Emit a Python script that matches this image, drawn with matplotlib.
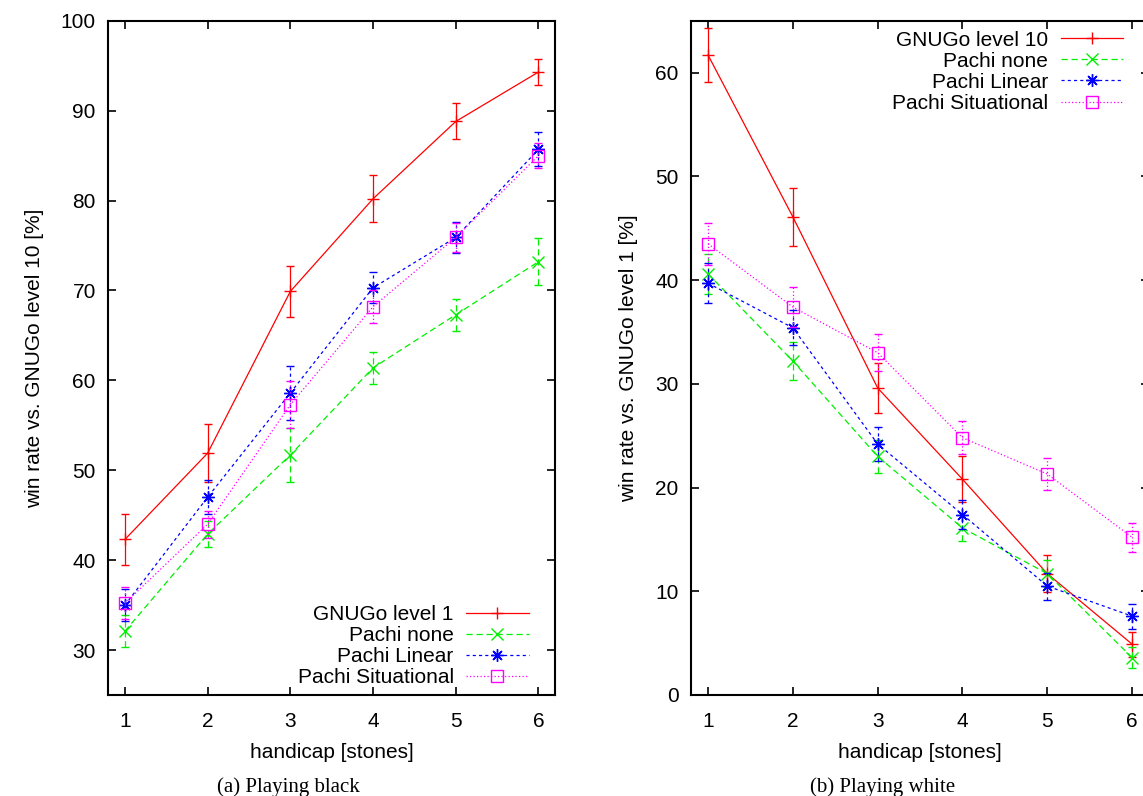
import matplotlib.pyplot as plt
from matplotlib.lines import Line2D

# handicap in stones
handicap = [1, 2, 3, 4, 5, 6]

# (a) playing black: win rate vs. GNUGo level 10 [%]
black_labels = ['GNUGo level 1', 'Pachi none', 'Pachi Linear', 'Pachi Situational']
black_gnugo = [42.3, 51.9, 69.9, 80.2, 88.8, 94.3]
black_gnugo_err = [2.8, 3.2, 2.8, 2.6, 2.0, 1.4]
black_none = [32.1, 42.9, 51.7, 61.4, 67.3, 73.2]
black_none_err = [1.8, 1.4, 3.0, 1.8, 1.8, 2.6]
black_linear = [35.0, 47.0, 58.6, 70.3, 75.9, 85.7]
black_linear_err = [1.8, 1.9, 3.0, 1.7, 1.7, 1.9]
black_sit = [35.2, 44.0, 57.3, 68.2, 75.9, 85.0]
black_sit_err = [1.8, 1.5, 2.6, 1.8, 1.6, 1.4]

# (b) playing white: win rate vs. GNUGo level 1 [%]
white_labels = ['GNUGo level 10', 'Pachi none', 'Pachi Linear', 'Pachi Situational']
white_gnugo = [61.7, 46.1, 29.6, 20.8, 11.7, 4.9]
white_gnugo_err = [2.6, 2.8, 2.4, 2.2, 1.8, 1.2]
white_none = [40.6, 32.2, 23.0, 16.1, 11.7, 3.6]
white_none_err = [1.9, 1.8, 1.6, 1.3, 1.3, 1.0]
white_linear = [39.7, 35.4, 24.2, 17.4, 10.5, 7.6]
white_linear_err = [1.9, 1.7, 1.6, 1.4, 1.3, 1.2]
white_sit = [43.5, 37.4, 33.0, 24.8, 21.3, 15.2]
white_sit_err = [2.0, 1.9, 1.8, 1.6, 1.5, 1.4]

colors = ['#ff0000', '#00f000', '#0000ff', '#ff00ff']
markers = ['+', 'x', (8, 2, 0), 's']
styles = ['-', (0, (5, 3)), (0, (2.5, 2.5)), (0, (1, 1.8))]

plt.rcParams['font.family'] = ['Liberation Sans', 'DejaVu Sans']
plt.rcParams['font.size'] = 15


def draw_panel(ax, series, errors, labels, ylim, yticks, ylabel, loc, anchor):
    handles = []
    for i in range(4):
        eb = ax.errorbar(handicap, series[i], yerr=errors[i], color=colors[i],
                         ls=styles[i], lw=0.9, marker=markers[i], ms=9,
                         mfc='none', mew=1.0, capsize=2.8, elinewidth=0.9,
                         capthick=0.9, zorder=3 + i)
        for bar in eb[2]:
            bar.set_linestyle(styles[i])
        handles.append(Line2D([], [], color=colors[i], ls=styles[i], lw=0.9,
                              marker=markers[i], ms=9, mfc='none', mew=1.0))
    ax.set_xlim(0.8, 6.2)
    ax.set_ylim(*ylim)
    ax.set_xticks(handicap)
    ax.set_yticks(yticks)
    ax.tick_params(direction='in', length=6, width=1.2, top=True, right=True,
                   labelsize=15)
    ax.tick_params(axis='x', pad=12)
    ax.tick_params(axis='y', pad=9)
    for s in ax.spines.values():
        s.set_linewidth(1.5)
    ax.set_xlabel('handicap [stones]', fontsize=15, labelpad=9)
    ax.set_ylabel(ylabel, fontsize=15, labelpad=12)
    leg = ax.legend(handles, labels, loc=loc, bbox_to_anchor=anchor,
                    markerfirst=False, frameon=False, fontsize=15,
                    handlelength=3.0, handletextpad=0.6, labelspacing=0.1,
                    borderaxespad=0.2)
    try:
        for col in leg._legend_handle_box.get_children():
            col.align = 'right'
    except AttributeError:
        pass


fig = plt.figure(figsize=(11.43, 7.96), dpi=100)
ax1 = fig.add_axes([0.0948, 0.1269, 0.3908, 0.847])
ax2 = fig.add_axes([0.6046, 0.1269, 0.4007, 0.847])

draw_panel(ax1, [black_gnugo, black_none, black_linear, black_sit],
           [black_gnugo_err, black_none_err, black_linear_err, black_sit_err],
           black_labels, (25, 100), range(30, 101, 10),
           'win rate vs. GNUGo level 10 [%]', 'lower right', (0.969, -0.007))
draw_panel(ax2, [white_gnugo, white_none, white_linear, white_sit],
           [white_gnugo_err, white_none_err, white_linear_err, white_sit_err],
           white_labels, (0, 65), range(0, 61, 10),
           'win rate vs. GNUGo level 1 [%]', 'upper right', (0.971, 1.004))

fig.text(0.252, 0.011, '(a) Playing black', ha='center', va='center',
         family='Liberation Serif', fontsize=15)
fig.text(0.772, 0.011, '(b) Playing white', ha='center', va='center',
         family='Liberation Serif', fontsize=15)

fig.savefig('out.png', dpi=100)
